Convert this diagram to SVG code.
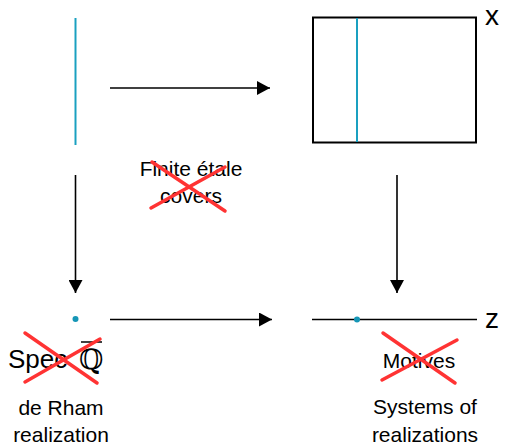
<svg xmlns="http://www.w3.org/2000/svg" width="506" height="448" viewBox="0 0 506 448">
<defs>
<marker id="ah" viewBox="0 0 13 14" refX="13" refY="7" markerWidth="13" markerHeight="14" markerUnits="userSpaceOnUse" orient="auto"><path d="M0,0 L13,7 L0,14 z" fill="#000"/></marker>
<style>
.t{font-family:"Liberation Sans",Arial,sans-serif;font-size:21px;fill:#000}
.c{stroke:#ff3333;stroke-width:3.5;stroke-linecap:round;fill:none}
.teal{stroke:#1aa0c0;stroke-width:2;fill:none}
.ar{stroke:#000;stroke-width:1.6;fill:none;marker-end:url(#ah)}
</style>
</defs>
<rect width="506" height="448" fill="#fff"/>
<g id="fiber-left">
<line class="teal" x1="75.5" y1="18" x2="75.5" y2="145"/>
</g>
<g id="X">
<rect x="313" y="17.5" width="163" height="125" fill="none" stroke="#000" stroke-width="2"/>
<line class="teal" x1="357" y1="18" x2="357" y2="142"/>
<text class="t" x="485" y="25" style="font-size:28px">x</text>
</g>
<g id="point">
<circle cx="75.5" cy="319" r="3" fill="#1596b6"/>
</g>
<g id="Z">
<line x1="312" y1="319.5" x2="477" y2="319.5" stroke="#000" stroke-width="1.6"/>
<circle cx="357" cy="319.5" r="3" fill="#1596b6"/>
<text class="t" x="485" y="328" style="font-size:28px">z</text>
</g>
<g id="label-finite">
<text class="t" x="191" y="176" text-anchor="middle">Finite étale</text>
<text class="t" x="191" y="203" text-anchor="middle">covers</text>
<line class="c" x1="152" y1="162" x2="225" y2="211"/>
<line class="c" x1="151" y1="208" x2="225" y2="167"/>
</g>
<g id="label-spec">
<text class="t" x="8" y="368" style="font-size:26px">Spec</text>
<text x="79" y="369" style="font-family:'DejaVu Serif',serif;font-size:28px" fill="#000">ℚ</text>
<line x1="81" y1="342" x2="102" y2="342" stroke="#000" stroke-width="1.5"/>
<line class="c" x1="25" y1="333" x2="97" y2="383"/>
<line class="c" x1="25" y1="382" x2="100" y2="339"/>
</g>
<g id="label-derham">
<text class="t" x="61" y="415" text-anchor="middle">de Rham</text>
<text class="t" x="61" y="442" text-anchor="middle">realization</text>
</g>
<g id="label-motives">
<text class="t" x="419" y="368" text-anchor="middle">Motives</text>
<line class="c" x1="383" y1="333" x2="455" y2="383"/>
<line class="c" x1="382" y1="380" x2="457" y2="340"/>
</g>
<g id="label-systems">
<text class="t" x="425" y="414" text-anchor="middle">Systems of</text>
<text class="t" x="425" y="442" text-anchor="middle">realizations</text>
</g>
<g id="connectors">
<line class="ar" x1="110" y1="88" x2="270" y2="88"/>
<line class="ar" x1="75.5" y1="175" x2="75.5" y2="293"/>
<line class="ar" x1="397" y1="175" x2="397" y2="293"/>
<line class="ar" x1="110" y1="319.5" x2="272" y2="319.5"/>
</g>
</svg>
